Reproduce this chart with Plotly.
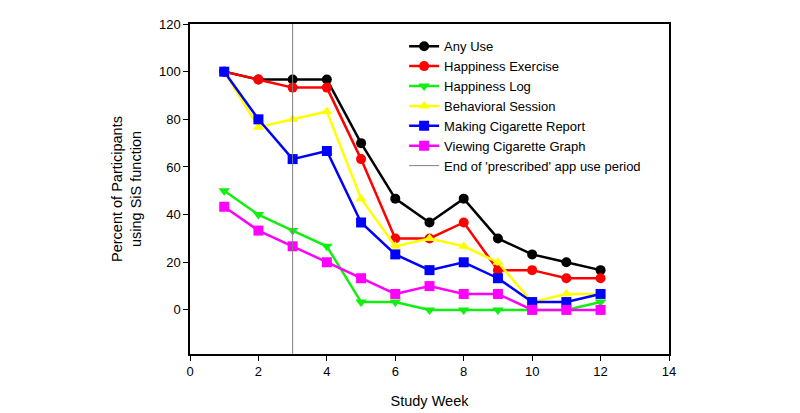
import plotly.graph_objects as go

weeks = [1, 2, 3, 4, 5, 6, 7, 8, 9, 10, 11, 12]
any_use = [100, 96.7, 96.7, 96.7, 70, 46.7, 36.7, 46.7, 30, 23.3, 20, 16.7]
happiness_exercise = [100, 96.7, 93.3, 93.3, 63.3, 30, 30, 36.7, 16.7, 16.7, 13.3, 13.3]
happiness_log = [50, 40, 33.3, 26.7, 3.3, 3.3, 0, 0, 0, 0, 0, 3.3]
behavioral_session = [100, 76.7, 80, 83.3, 46.7, 26.7, 30, 26.7, 20, 3.3, 6.7, 6.7]
making_report = [100, 80, 63.3, 66.7, 36.7, 23.3, 16.7, 20, 13.3, 3.3, 3.3, 6.7]
viewing_graph = [43.3, 33.3, 26.7, 20, 13.3, 6.7, 10, 6.7, 6.7, 0, 0, 0]
prescribed_end_week = 3

x_ticks = [0, 2, 4, 6, 8, 10, 12, 14]
y_ticks = [0, 20, 40, 60, 80, 100, 120]
y_min, y_max = -18.5, 120

series = [
    ("Any Use", any_use, "#000000", "circle"),
    ("Happiness Exercise", happiness_exercise, "#ff0000", "circle"),
    ("Happiness Log", happiness_log, "#11ee11", "triangle-down"),
    ("Behavioral Session", behavioral_session, "#ffff00", "triangle-up"),
    ("Making Cigarette Report", making_report, "#0000ff", "square"),
    ("Viewing Cigarette Graph", viewing_graph, "#ff00ff", "square"),
]

fig = go.Figure()
for name, vals, color, sym in series:
    fig.add_trace(go.Scatter(
        x=weeks, y=vals, name=name, mode="lines+markers",
        line=dict(color=color, width=2.5),
        marker=dict(color=color, symbol=sym, size=10, line=dict(width=0)),
    ))

fig.add_trace(go.Scatter(
    x=[prescribed_end_week, prescribed_end_week], y=[y_min, y_max],
    name="End of 'prescribed' app use period", mode="lines",
    line=dict(color="#808080", width=1),
))

fig.update_layout(
    width=800, height=413,
    margin=dict(l=182, r=139, t=9, b=67),
    paper_bgcolor="white", plot_bgcolor="white",
    font=dict(family="Liberation Sans, Arial, sans-serif", color="#000000", size=13),
    showlegend=True,
    legend=dict(x=0.447, y=0.978, xanchor="left", yanchor="top",
                bgcolor="rgba(0,0,0,0)", font=dict(size=13), tracegroupgap=0),
    xaxis=dict(range=[0, 14], tickvals=x_ticks,
               ticks="outside", ticklen=5, tickcolor="#000", showgrid=False,
               zeroline=False, showline=True, linecolor="#000", linewidth=1.5, mirror=True,
               title=dict(text="Study Week", font=dict(size=14.5), standoff=18)),
    yaxis=dict(range=[y_min, y_max], tickvals=y_ticks,
               ticks="outside", ticklen=5, tickcolor="#000", showgrid=False,
               zeroline=False, showline=True, linecolor="#000", linewidth=1.5, mirror=True,
               title=dict(text="Percent of Participants<br>using SiS function", font=dict(size=14.5), standoff=14)),
)

fig.write_html("out.html")
